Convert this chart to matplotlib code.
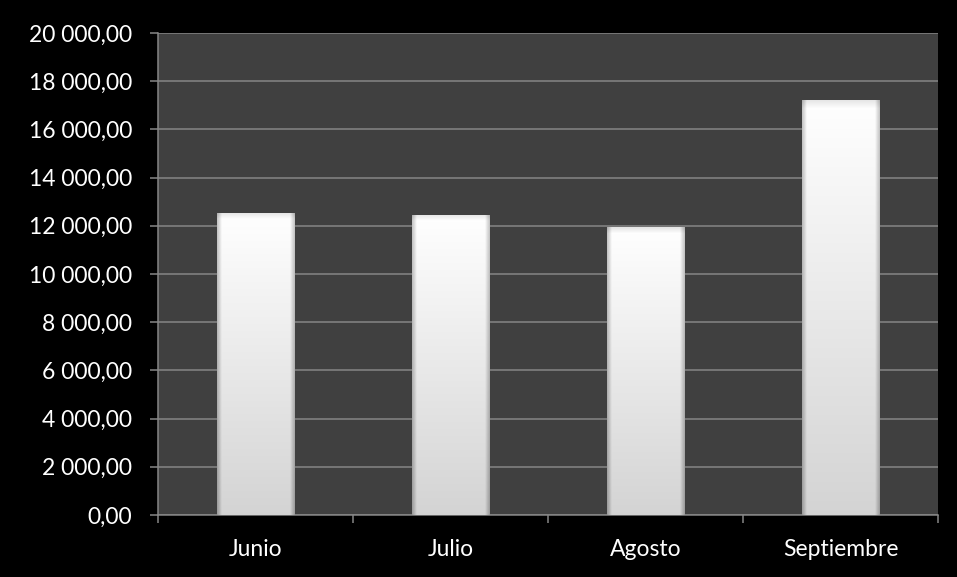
import matplotlib
matplotlib.use("Agg")
import matplotlib.pyplot as plt
import numpy as np
from matplotlib.ticker import FuncFormatter, MultipleLocator, FixedLocator

MONTHS = ["Junio", "Julio", "Agosto", "Septiembre"]
VALUES = [12550, 12450, 11940, 17220]

BG = "#000000"
PLOT_BG = "#404040"
GRID = "#868686"
TEXT = "#ffffff"

plt.rcParams["font.family"] = ["Lato", "DejaVu Sans"]


def es_fmt(v, _pos):
    return f"{v:,.2f}".replace(",", " ").replace(".", ",")


def bar_gradient(n=200, m=100):
    t = np.linspace(0, 1, n)[:, None]
    s = np.linspace(0, 1, m)[None, :]
    base = 1.0 - 0.17 * t
    # darker bevel along the sides and top rim
    edge = np.minimum(s, 1 - s)
    side = 0.22 * np.clip(1 - edge / 0.06, 0, 1)
    top = 0.10 * np.clip(1 - t / 0.02, 0, 1)
    g = np.clip(base - side - top, 0, 1)
    return np.dstack([g, g, g])


fig = plt.figure(figsize=(9.57, 5.77), dpi=100)
fig.set_facecolor(BG)
ax = fig.add_axes([158 / 957, 62 / 577, 780 / 957, 482 / 577])
ax.set_facecolor(PLOT_BG)

x = np.arange(len(MONTHS))
bars = ax.bar(x, VALUES, width=0.4, color="none", zorder=3)
img = bar_gradient()
for b in bars:
    x0, w, h = b.get_x(), b.get_width(), b.get_height()
    im = ax.imshow(img, extent=[x0, x0 + w, 0, h], aspect="auto",
                   interpolation="bilinear", zorder=3)
    im.set_clip_path(b)

ax.set_xlim(-0.5, len(MONTHS) - 0.5)
ax.set_ylim(0, 20000)
ax.yaxis.set_major_locator(MultipleLocator(2000))
ax.yaxis.set_major_formatter(FuncFormatter(es_fmt))
ax.grid(axis="y", color=GRID, linewidth=1.1, zorder=1)

ax.set_xticks(x)
ax.set_xticklabels(MONTHS)
ax.xaxis.set_minor_locator(FixedLocator(np.arange(-0.5, len(MONTHS), 1.0)))
ax.tick_params(axis="x", which="major", length=0, pad=17, labelsize=16.5,
               colors=TEXT)
ax.tick_params(axis="x", which="minor", length=5.5, width=1.1, color=GRID,
               direction="out")
ax.tick_params(axis="y", length=5.5, width=1.1, color=GRID, labelsize=16.5,
               labelcolor=TEXT, pad=13)

for side in ("top", "right"):
    ax.spines[side].set_visible(False)
for side in ("left", "bottom"):
    ax.spines[side].set_color(GRID)
    ax.spines[side].set_linewidth(1.1)

fig.savefig("out.png", dpi=100, facecolor=BG)
